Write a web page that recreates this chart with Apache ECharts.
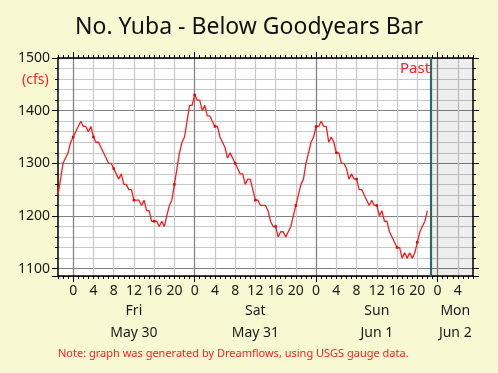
<!DOCTYPE html>
<html><head><meta charset="utf-8">
<script src="https://cdn.jsdelivr.net/npm/echarts@6/dist/echarts.min.js"></script>
<style>html,body{margin:0;padding:0;background:#f8f8d2}#c{width:498px;height:373px}</style>
</head><body><div id="c"></div>
<script>
// hours relative to May 30 00:00, sampled every 30 min starting May 29 21:00
const startHour = -3;
const stepHours = 0.5;
const flow = [
1240,1270,1300,1310,1320,1340,1350,1360,1370,1380,1370,1370,1360,1370,1350,1340,1340,1330,1320,1310,
1300,1300,1290,1280,1270,1280,1260,1260,1250,1250,1230,1230,1230,1220,1230,1210,1210,1190,1190,1190,
1180,1190,1180,1200,1220,1230,1260,1290,1320,1340,1350,1380,1410,1410,1430,1420,1420,1400,1410,1390,
1390,1380,1370,1370,1350,1340,1330,1310,1320,1310,1300,1290,1280,1280,1260,1270,1270,1250,1230,1230,
1220,1220,1220,1210,1190,1180,1180,1160,1170,1170,1160,1170,1180,1200,1220,1240,1260,1270,1300,1320,
1340,1350,1370,1370,1380,1370,1370,1340,1350,1340,1320,1320,1300,1300,1290,1270,1280,1270,1270,1250,
1250,1240,1230,1220,1230,1220,1220,1200,1210,1190,1190,1170,1160,1150,1140,1140,1120,1130,1120,1130,
1120,1130,1150,1170,1180,1190,1210
];
const axisStartHour = -3, axisEndHour = 79;   // May 29 21:00 .. Jun 2 07:00
const pastHour = 70.75;                         // Jun 1 22:45
const yTicks = [1100,1200,1300,1400,1500];
const yMin = 1086, yMax = 1500;
const dayLabelHours = [12, 36, 60, 75.5];
const dayNames = ['Fri','Sat','Sun','Mon'];
const dayDates = ['May 30','May 31','Jun 1','Jun 2'];

const cats = [];
for (let h = axisStartHour; h <= axisEndHour + 1e-9; h += 0.25) cats.push(String(h));
const data = flow.map((v, i) => [String(startHour + i * stepHours), v]);
const hr = v => parseFloat(v);
const isHour = (i, v) => Number.isInteger(hr(v));
const is4h = (i, v) => Number.isInteger(hr(v)) && ((hr(v) % 4) + 4) % 4 === 0;
const isDay = (i, v) => Number.isInteger(hr(v)) && ((hr(v) % 24) + 24) % 24 === 0;
const isDayLabel = (i, v) => dayLabelHours.indexOf(hr(v)) >= 0;
const FONT = 'Noto Sans';
const TXT = '#1a1a1a';

const baseX = {
  type: 'category', data: cats, boundaryGap: false, gridIndex: 0,
  axisLine: {show: false}, axisTick: {show: false}, axisLabel: {show: false}, splitLine: {show: false}
};
const chart = echarts.init(document.getElementById('c'), null, {renderer: 'canvas'});
chart.setOption({
  animation: false,
  backgroundColor: '#f8f8d2',
  title: [
    {text: 'No. Yuba - Below Goodyears Bar', left: 'center', top: 16, padding: 0,
     textStyle: {fontFamily: FONT, fontSize: 23, fontWeight: 'normal', color: '#111'}},
    {text: '(cfs)', left: 22, top: 73, padding: 0, textStyle: {fontFamily: FONT, fontSize: 14, fontWeight: 'normal', color: '#ff2020'}},
    {text: 'Past', left: 400, top: 61, padding: 0, textStyle: {fontFamily: FONT, fontSize: 15, fontWeight: 'normal', color: '#ff2020'}},
    {text: 'Note: graph was generated by Dreamflows, using USGS gauge data.', left: 58, top: 348, padding: 0,
     textStyle: {fontFamily: FONT, fontSize: 11, fontWeight: 'normal', color: '#ff2020'}}
  ],
  grid: {left: 58, right: 25, top: 58, bottom: 97, show: true, backgroundColor: '#ffffff', borderWidth: 0},
  xAxis: [
    Object.assign({}, baseX, {position: 'bottom',
      axisLine: {show: true, lineStyle: {color: '#000', width: 1.5}},
      axisTick: {show: true, interval: isHour, length: 3, lineStyle: {color: '#000'}},
      axisLabel: {show: true, interval: is4h, margin: 8, fontFamily: FONT, fontSize: 14, color: TXT,
        formatter: v => String(((hr(v) % 24) + 24) % 24)},
      splitLine: {show: true, interval: is4h, lineStyle: {color: '#c8c8c8', width: 1.2}}
    }),
    Object.assign({}, baseX, {position: 'top',
      axisLine: {show: true, lineStyle: {color: '#000', width: 1.5}},
      axisTick: {show: true, interval: isHour, length: 3, lineStyle: {color: '#000'}}
    }),
    Object.assign({}, baseX, {position: 'bottom',
      axisTick: {show: true, interval: isDay, length: 6, lineStyle: {color: '#000'}},
      axisLabel: {show: true, interval: isDayLabel, margin: 28, fontFamily: FONT, fontSize: 14, color: TXT,
        formatter: v => dayNames[dayLabelHours.indexOf(hr(v))]},
      splitLine: {show: true, interval: isDay, lineStyle: {color: '#808080', width: 1.2}}
    }),
    Object.assign({}, baseX, {position: 'bottom',
      axisLabel: {show: true, interval: isDayLabel, margin: 50, fontFamily: FONT, fontSize: 14, color: TXT,
        formatter: v => dayDates[dayLabelHours.indexOf(hr(v))]}
    }),
    Object.assign({}, baseX, {position: 'top',
      axisTick: {show: true, interval: isDay, length: 6, lineStyle: {color: '#000'}}
    })
  ],
  yAxis: [
    {type: 'value', min: yMin, max: yMax, splitNumber: 4, position: 'left',
     axisLine: {show: true, lineStyle: {color: '#000', width: 1.5}},
     axisTick: {show: true, length: 6, lineStyle: {color: '#000'}},
     minorTick: {show: true, splitNumber: 5, length: 3, lineStyle: {color: '#000'}},
     axisLabel: {margin: 8, fontFamily: FONT, fontSize: 14, color: TXT,
       formatter: v => yTicks.indexOf(v) >= 0 ? String(v) : ''},
     splitLine: {show: true, lineStyle: {color: '#808080', width: 1.2}},
     minorSplitLine: {show: true, lineStyle: {color: '#c8c8c8', width: 1.2}}
    },
    {type: 'value', min: yMin, max: yMax, splitNumber: 4, position: 'right',
     axisLine: {show: true, lineStyle: {color: '#000', width: 1.5}},
     axisTick: {show: true, length: 6, lineStyle: {color: '#000'}},
     minorTick: {show: true, splitNumber: 5, length: 3, lineStyle: {color: '#000'}},
     axisLabel: {show: false}, splitLine: {show: false}
    }
  ],
  series: [
    {type: 'line', xAxisIndex: 0, yAxisIndex: 0, data: data,
     showSymbol: true, symbol: 'rect', symbolSize: 2.5,
     lineStyle: {color: '#ff1a1a', width: 1.3}, itemStyle: {color: '#e60000'},
     markArea: {silent: true, itemStyle: {color: 'rgba(0,0,0,0.065)'},
       data: [[{xAxis: String(pastHour)}, {xAxis: String(axisEndHour)}]]},
     markLine: {silent: true, symbol: 'none', label: {show: false},
       lineStyle: {color: '#2e6b5e', width: 2.2, type: 'solid'},
       data: [{xAxis: String(pastHour)}]}
    }
  ]
});
</script></body></html>
